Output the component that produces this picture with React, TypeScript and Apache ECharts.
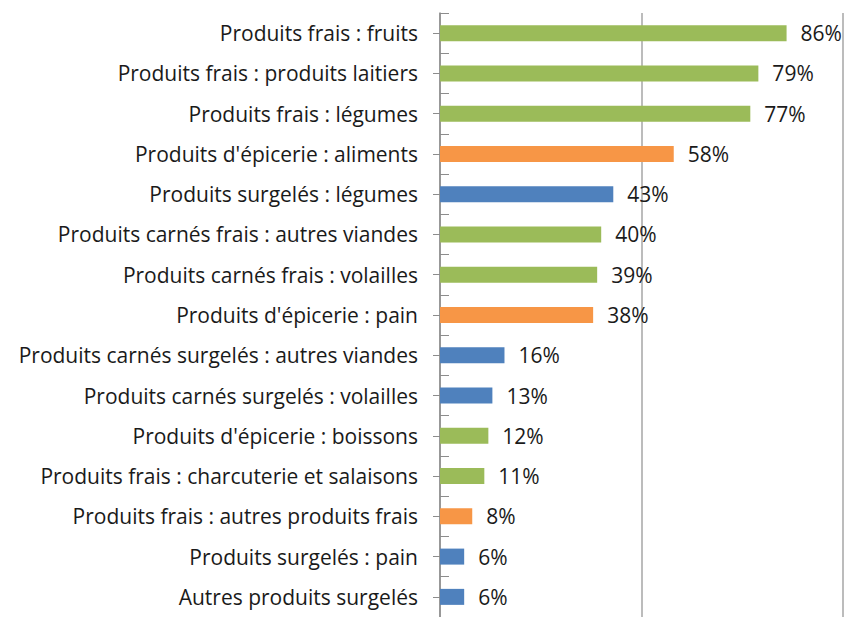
import React, { useEffect, useRef } from "react";
import * as echarts from "echarts";

const categories = [
  "Produits frais : fruits",
  "Produits frais : produits laitiers",
  "Produits frais : légumes",
  "Produits d'épicerie : aliments",
  "Produits surgelés : légumes",
  "Produits carnés frais : autres viandes",
  "Produits carnés frais : volailles",
  "Produits d'épicerie : pain",
  "Produits carnés surgelés : autres viandes",
  "Produits carnés surgelés : volailles",
  "Produits d'épicerie : boissons",
  "Produits frais : charcuterie et salaisons",
  "Produits frais : autres produits frais",
  "Produits surgelés : pain",
  "Autres produits surgelés",
];
const values = [86, 79, 77, 58, 43, 40, 39, 38, 16, 13, 12, 11, 8, 6, 6];
const groups = ["frais", "frais", "frais", "epicerie", "surgele", "frais", "frais", "epicerie", "surgele", "surgele", "frais", "frais", "epicerie", "surgele", "surgele"];
const groupColors: Record<string, string> = { frais: "#9BBB59", epicerie: "#F79646", surgele: "#4F81BD" };

export default function App() {
  const ref = useRef<HTMLDivElement>(null);
  useEffect(() => {
    if (!ref.current) return;
    const chart = echarts.init(ref.current, undefined, { renderer: "svg" });
    const font = "'Open Sans', sans-serif";
    chart.setOption({
      animation: false,
      grid: { left: 440, right: 3, top: 13, bottom: -3, containLabel: false },
      xAxis: {
        type: "value",
        min: 0,
        max: 100,
        interval: 50,
        axisLine: { show: false },
        axisTick: { show: false },
        axisLabel: { show: false },
        splitLine: { show: true, lineStyle: { color: "#A6A6A6", width: 1.5 } },
      },
      yAxis: [
        {
          type: "category",
          data: categories,
          inverse: true,
          axisLine: { show: true, lineStyle: { color: "#8C8C8C", width: 1.5 } },
          axisTick: { show: true, inside: true, length: 9, lineStyle: { color: "#8C8C8C" } },
          axisLabel: { margin: 22, fontSize: 21, color: "#1A1A1A", fontFamily: font },
        },
        {
          type: "category",
          data: categories,
          inverse: true,
          position: "left",
          axisLine: { show: false },
          axisTick: { show: true, alignWithLabel: true, length: 7, lineStyle: { color: "#8C8C8C" } },
          axisLabel: { show: false },
        },
      ],
      series: [
        {
          type: "bar",
          yAxisIndex: 0,
          barWidth: 16,
          data: values.map((v, i) => ({ value: v, itemStyle: { color: groupColors[groups[i]] } })),
          label: {
            show: true,
            position: "right",
            distance: 14,
            formatter: "{c}%",
            fontSize: 21,
            color: "#1A1A1A",
            fontFamily: font,
          },
        },
      ],
    });
    return () => chart.dispose();
  }, []);
  return <div ref={ref} style={{ position: "fixed", left: 0, top: 0, width: 846, height: 617, background: "#fff" }} />;
}
